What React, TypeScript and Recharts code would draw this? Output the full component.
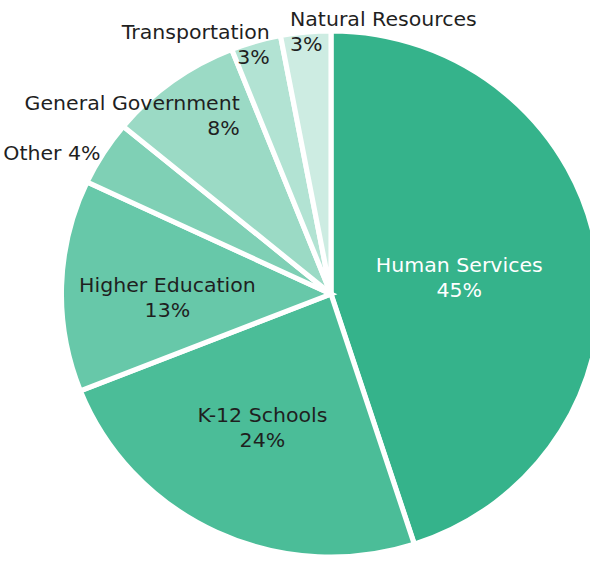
import React from 'react';
import { PieChart, Pie, Cell } from 'recharts';

// Spending by area (share of total, %)
const categories = [
  'Human Services',
  'K-12 Schools',
  'Higher Education',
  'Other',
  'General Government',
  'Transportation',
  'Natural Resources',
];
const shares = [45, 24, 13, 4, 8, 3, 3];

const colors = ['#35b38b', '#4bbd98', '#67c8a9', '#7fd0b5', '#9bdac5', '#b2e3d3', '#cdece2'];

// the reference pie is a touch wider than tall
const SX = 1.025;
const CX = 331;

// label placement: f = fraction of radius along mid angle, then nudge
const labelCfg: Record<string, { f: number; dx: number; dy: number; anchor: string; oneLine?: boolean }> = {
  'Human Services': { f: 0.49, dx: 1, dy: 3, anchor: 'middle' },
  'K-12 Schools': { f: 0.55, dx: -7, dy: 2, anchor: 'middle' },
  'Higher Education': { f: 0.63, dx: 2, dy: 8, anchor: 'middle' },
  Other: { f: 1.065, dx: 6, dy: 9, anchor: 'end', oneLine: true },
  'General Government': { f: 0.849, dx: 40, dy: 2, anchor: 'end' },
  Transportation: { f: 0.998, dx: 12, dy: 2, anchor: 'end' },
  'Natural Resources': { f: 1.011, dx: -16, dy: 2, anchor: 'start' },
};

const data = categories.map((name, i) => ({ name, value: shares[i] }));

const RAD = Math.PI / 180;

const renderLabel = (props: any) => {
  const { cx, cy, midAngle, outerRadius, index } = props;
  const d = data[index];
  const cfg = labelCfg[d.name];
  const r = outerRadius * cfg.f;
  const xs = cx + r * Math.cos(-midAngle * RAD) + cfg.dx;
  // undo the horizontal stretch so the text lands where wanted
  const x = cx + (xs - cx) / SX;
  const y = cy + r * Math.sin(-midAngle * RAD) + cfg.dy;
  const fill = index === 0 ? '#ffffff' : '#1f1f1f';
  const common = {
    textAnchor: cfg.anchor as any,
    dominantBaseline: 'central' as any,
    fill,
    fontSize: 20,
    fontFamily: 'DejaVu Sans, sans-serif',
  };
  if (cfg.oneLine) {
    return (
      <text x={x} y={y} {...common}>
        {`${d.name} ${d.value}%`}
      </text>
    );
  }
  return (
    <g>
      <text x={x} y={y - 12} {...common}>
        {d.name}
      </text>
      <text x={x} y={y + 13} {...common}>
        {`${d.value}%`}
      </text>
    </g>
  );
};

export default function App() {
  return (
    <div style={{ position: 'absolute', left: 0, top: 0, width: 590, height: 563, overflow: 'hidden', background: '#fff' }}>
      <div style={{ transform: `scaleX(${SX})`, transformOrigin: `${CX}px 0px`, width: 590, height: 563 }}>
        <PieChart width={590} height={563} margin={{ top: 0, right: 0, bottom: 0, left: 0 }}>
          <Pie
            data={data}
            dataKey="value"
            nameKey="name"
            cx={CX}
            cy={294}
            outerRadius={263}
            startAngle={90}
            endAngle={-270}
            stroke="#ffffff"
            strokeWidth={5}
            labelLine={false}
            label={renderLabel}
            isAnimationActive={false}
          >
            {data.map((d, i) => (
              <Cell key={d.name} fill={colors[i]} />
            ))}
          </Pie>
        </PieChart>
      </div>
    </div>
  );
}
